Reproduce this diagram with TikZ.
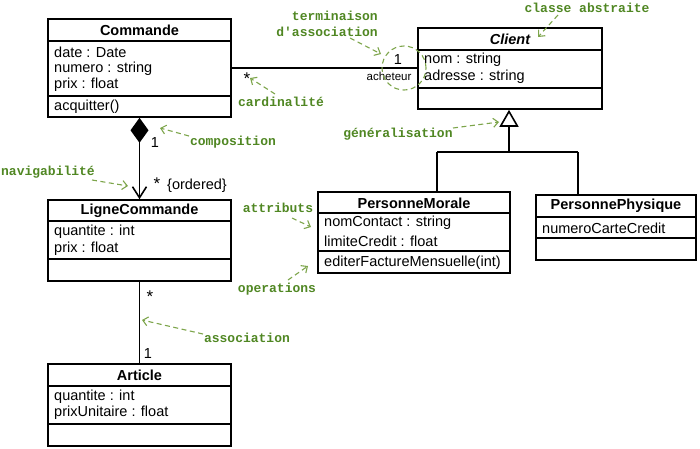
\documentclass[tikz,border=0pt]{standalone}
\usepackage{fontspec}
\setmainfont{Liberation Sans}
\newfontfamily\annotfont{Liberation Mono}
\usetikzlibrary{arrows.meta}
\definecolor{annottext}{RGB}{80,135,35}
\definecolor{annotline}{RGB}{125,165,75}
\begin{document}
\begin{tikzpicture}[x=1pt,y=-1pt,
  classbox/.style={draw,line width=1.6pt,inner sep=0pt},
  title/.style={font=\fontsize{14.5}{16}\selectfont\bfseries,inner sep=0pt},
  member/.style={font=\fontsize{14.5}{16}\selectfont,anchor=west,inner sep=0pt},
  mult/.style={font=\fontsize{14.5}{16}\selectfont,inner sep=0pt},
  star/.style={font=\fontsize{17}{18}\selectfont,inner sep=0pt},
  note/.style={font=\fontsize{13}{15}\selectfont\annotfont\bfseries,text=annottext,inner sep=0pt},
  notearrow/.style={draw=annotline,line width=1.1pt,dash pattern=on 5pt off 3.5pt,-{Straight Barb[length=5pt,width=9pt]}},
  sep/.style={line width=1.6pt},
  conn/.style={line width=1.6pt}]
\useasboundingbox (0,0) rectangle (700,448);

% ---- classes ----
\node[classbox,minimum width=183pt,minimum height=98pt] (cmd) at (139.5,68) {};
\draw[sep] (48,41) -- (231,41);
\draw[sep] (48,96) -- (231,96);
\node[title] (cmdt) at (139.5,30) {Commande};
\node[member] (cmd1) at (54,52) {date : Date};
\node[member] (cmd2) at (54,68.5) {numero : string};
\node[member] (cmd3) at (54,85) {prix : float};
\node[member] (cmd4) at (54,107) {acquitter()};

\node[classbox,minimum width=184pt,minimum height=81pt] (cli) at (510,68.5) {};
\draw[sep] (418,50) -- (602,50);
\draw[sep] (418,88) -- (602,88);
\node[title,font=\fontsize{14.5}{16}\selectfont\bfseries\itshape] (clit) at (510,39) {Client};
\node[member] (cli1) at (424,60) {nom : string};
\node[member] (cli2) at (424,77) {adresse : string};

\node[classbox,minimum width=192pt,minimum height=81pt] (pm) at (414,232.5) {};
\draw[sep] (318,213) -- (510,213);
\draw[sep] (318,251) -- (510,251);
\node[title] (pmt) at (414,203) {PersonneMorale};
\node[member] (pm1) at (324,223) {nomContact : string};
\node[member] (pm2) at (324,241) {limiteCredit : float};
\node[member] (pm3) at (324,263) {editerFactureMensuelle(int)};

\node[classbox,minimum width=160pt,minimum height=65pt] (pp) at (616,227.5) {};
\draw[sep] (536,217) -- (696,217);
\draw[sep] (536,238) -- (696,238);
\node[title] (ppt) at (616,206) {PersonnePhysique};
\node[member] (pp1) at (542,228) {numeroCarteCredit};

\node[classbox,minimum width=183pt,minimum height=81pt] (lc) at (139.5,240.5) {};
\draw[sep] (48,221) -- (231,221);
\draw[sep] (48,259) -- (231,259);
\node[title] (lct) at (139.5,211) {LigneCommande};
\node[member] (lc1) at (54,232) {quantite : int};
\node[member] (lc2) at (54,249) {prix : float};

\node[classbox,minimum width=183pt,minimum height=82pt] (art) at (139.5,405) {};
\draw[sep] (48,386) -- (231,386);
\draw[sep] (48,424) -- (231,424);
\node[title] (artt) at (139.5,375) {Article};
\node[member] (art1) at (54,397) {quantite : int};
\node[member] (art2) at (54,413) {prixUnitaire : float};

% ---- connectors ----
\draw[conn] (cmd.east) -- (cmd.east -| cli.west);
\draw[conn,{Diamond[length=25pt,width=18pt]}-{Straight Barb[length=11pt,width=14pt]}] (cmd.south) -- (lc.north);
\draw[conn] (lc.south) -- (art.north);

\coordinate (jm) at (509,152);
\coordinate (jl) at (437,152);
\coordinate (jr) at (578,152);
\draw[conn] (jl) -- (jr);
\draw[conn] (jl) -- (jl |- pm.north);
\draw[conn] (jr) -- (jr |- pp.north);
\draw[conn,-{Triangle[open,length=17pt,width=19pt]}] (jm) -- (jm |- cli.south);

% ---- multiplicities ----
\node[star] (m1) at (247,79) {*};
\node[mult] (m2) at (398,60) {1};
\node[mult,font=\fontsize{11.5}{13}\selectfont] (m3) at (389,76) {acheteur};
\node[mult] (m4) at (155,143) {1};
\node[star] (m5) at (157,184) {*};
\node[mult] (m6) at (197,186) {\{ordered\}};
\node[star] (m7) at (150,297) {*};
\node[mult] (m8) at (148,354) {1};

% ---- annotations ----
\draw[annotline,line width=1.1pt,dash pattern=on 5pt off 3.5pt] (404,68) circle (22pt);

\node[note,align=right,anchor=east] (nterm) at (378,24) {terminaison\\[1pt]d'association};
\coordinate (tterm0) at (350,38); \coordinate (tterm1) at (381,54);
\draw[notearrow] (tterm0) -- (tterm1);

\node[note] (nabs) at (587,8) {classe abstraite};
\coordinate (tabs0) at (558,15); \coordinate (tabs1) at (538,37);
\draw[notearrow] (tabs0) -- (tabs1);

\node[note] (ncard) at (281,102) {cardinalité};
\coordinate (tcard0) at (275,94); \coordinate (tcard1) at (250,78);
\draw[notearrow] (tcard0) -- (tcard1);

\node[note] (ncomp) at (233,142) {composition};
\coordinate (tcomp0) at (189,136); \coordinate (tcomp1) at (160,128);
\draw[notearrow] (tcomp0) -- (tcomp1);

\node[note] (nnav) at (48,172) {navigabilité};
\coordinate (tnav0) at (92,180); \coordinate (tnav1) at (128,186);
\draw[notearrow] (tnav0) -- (tnav1);

\node[note] (ngen) at (398,134) {généralisation};
\coordinate (tgen0) at (453,128); \coordinate (tgen1) at (499,122);
\draw[notearrow] (tgen0) -- (tgen1);

\node[note] (nattr) at (278,208) {attributs};
\coordinate (tattr0) at (292,218); \coordinate (tattr1) at (311,227);
\draw[notearrow] (tattr0) -- (tattr1);

\node[note] (nops) at (277,289) {operations};
\coordinate (tops0) at (288,280); \coordinate (tops1) at (308,266);
\draw[notearrow] (tops0) -- (tops1);

\node[note] (nassoc) at (247,338) {association};
\coordinate (tassoc0) at (203,334); \coordinate (tassoc1) at (142,320);
\draw[notearrow] (tassoc0) -- (tassoc1);
\end{tikzpicture}
\end{document}
